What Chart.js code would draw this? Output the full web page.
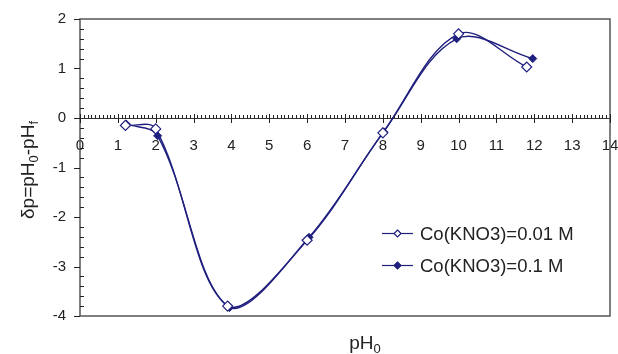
<!DOCTYPE html>
<html>
  <head>
    <meta charset="utf-8" />
    <title>δp vs pH0</title>
    <script src="https://cdn.jsdelivr.net/npm/chart.js"></script>
    <style>
      body {
        margin: 0;
        background: #fff;
      }
      .chart-box {
        width: 618px;
        height: 354px;
      }
    </style>
  </head>
  <body>
    <div class="chart-box"><canvas id="dpChart"></canvas></div>
    <script>
      // values
      const seriesNames = ["Co(KNO3)=0.01 M", "Co(KNO3)=0.1 M"];
      const ph001 = [1.2, 2.0, 3.9, 6.0, 8.0, 10.0, 11.8];
      const dp001 = [-0.15, -0.22, -3.8, -2.47, -0.3, 1.7, 1.03];
      const ph01 = [1.22, 2.05, 3.95, 6.05, 8.02, 9.95, 11.96];
      const dp01 = [-0.12, -0.36, -3.83, -2.41, -0.28, 1.6, 1.2];
      const xTicks = [0, 1, 2, 3, 4, 5, 6, 7, 8, 9, 10, 11, 12, 13, 14];
      const yTicks = [-4, -3, -2, -1, 0, 1, 2];

      const navy = "#1f1f7e";
      const axisGrey = "#555";
      const fontFam = "'Liberation Sans', Arial, sans-serif";

      const toPoints = (xs, ys) => xs.map((x, i) => ({ x: x, y: ys[i] }));

      // frame, tick marks, axis titles with subscripts and the legend
      const decorPlugin = {
        id: "decor",
        afterDraw: (chart) => {
          const ctx = chart.ctx;
          const a = chart.chartArea;
          const xs = chart.scales.x;
          const ys = chart.scales.y;
          const y0 = Math.round(ys.getPixelForValue(0));
          ctx.save();
          ctx.strokeStyle = axisGrey;
          ctx.lineWidth = 1.5;
          ctx.strokeRect(a.left, a.top, a.right - a.left, a.bottom - a.top);

          // tick marks as thin rectangles
          ctx.fillStyle = "#222";
          for (let i = 0; i <= 140; i++) {
            const px = Math.round(xs.getPixelForValue(i / 10));
            if (i % 10 === 0) {
              ctx.fillRect(px, y0 - 4, 1, 9);
            } else {
              ctx.fillRect(px, y0 - 3, 1, 3);
            }
          }
          const lx = Math.round(a.left);
          for (let i = -20; i <= 10; i++) {
            const py = Math.round(ys.getPixelForValue(i / 5));
            if (i % 5 === 0) {
              ctx.fillRect(lx - 6, py, 6, 1);
            } else {
              ctx.fillRect(lx, py, 4, 1);
            }
          }

          // axis titles
          ctx.fillStyle = "#222";
          ctx.textBaseline = "alphabetic";
          ctx.textAlign = "left";
          const big = "19px " + fontFam;
          const small = "13px " + fontFam;
          const drawParts = (parts, x, y) => {
            let cx = x;
            parts.forEach((p) => {
              ctx.font = p.sub ? small : big;
              ctx.fillText(p.t, cx, y + (p.sub ? 4 : 0));
              cx += ctx.measureText(p.t).width;
            });
          };
          const measure = (parts) =>
            parts.reduce((w, p) => {
              ctx.font = p.sub ? small : big;
              return w + ctx.measureText(p.t).width;
            }, 0);

          const xTitle = [{ t: "pH" }, { t: "0", sub: true }];
          drawParts(xTitle, 365 - measure(xTitle) / 2, 349);

          const yTitle = [
            { t: "δp=pH" },
            { t: "0", sub: true },
            { t: "-pH" },
            { t: "f", sub: true },
          ];
          ctx.translate(34, 170);
          ctx.rotate(-Math.PI / 2);
          drawParts(yTitle, -measure(yTitle) / 2, 0);
          ctx.setTransform(1, 0, 0, 1, 0, 0);

          // legend
          ctx.font = "18.5px " + fontFam;
          ctx.textBaseline = "middle";
          const rows = [233, 265];
          chart.data.datasets.forEach((ds, i) => {
            const ry = rows[i] + 0.5;
            ctx.strokeStyle = navy;
            ctx.lineWidth = 1.2;
            ctx.beginPath();
            ctx.moveTo(382, ry);
            ctx.lineTo(413, ry);
            ctx.stroke();
            ctx.beginPath();
            ctx.moveTo(397.5, ry - 3.5);
            ctx.lineTo(401, ry);
            ctx.lineTo(397.5, ry + 3.5);
            ctx.lineTo(394, ry);
            ctx.closePath();
            ctx.fillStyle = ds.pointBackgroundColor;
            ctx.fill();
            ctx.stroke();
            ctx.fillStyle = "#222";
            ctx.fillText(ds.label, 420, ry + 1);
          });
          ctx.restore();
        },
      };

      new Chart(document.getElementById("dpChart"), {
        type: "scatter",
        data: {
          datasets: [
            {
              label: seriesNames[0],
              data: toPoints(ph001, dp001),
              showLine: true,
              borderColor: navy,
              borderWidth: 1.4,
              tension: 0.35,
              pointStyle: "rectRot",
              pointRadius: 5,
              pointBorderWidth: 1.2,
              pointBackgroundColor: "#fff",
              pointBorderColor: navy,
            },
            {
              label: seriesNames[1],
              data: toPoints(ph01, dp01),
              showLine: true,
              borderColor: navy,
              borderWidth: 1.4,
              tension: 0.35,
              pointStyle: "rectRot",
              pointRadius: 4,
              pointBorderWidth: 1,
              pointBackgroundColor: navy,
              pointBorderColor: navy,
            },
          ],
        },
        options: {
          responsive: true,
          maintainAspectRatio: false,
          animation: false,
          layout: { padding: { left: 0, top: 19, right: 8, bottom: 38 } },
          plugins: {
            legend: { display: false },
            tooltip: { enabled: false },
          },
          scales: {
            x: {
              type: "linear",
              position: { y: 0 },
              min: 0,
              max: 14,
              afterBuildTicks: (s) => {
                s.ticks = xTicks.map((v) => ({ value: v }));
              },
              afterFit: (s) => {
                s.paddingLeft = 0;
                s.paddingRight = 0;
              },
              grid: { display: false, drawTicks: false },
              border: { color: "#333", width: 1 },
              ticks: {
                padding: 19,
                color: "#222",
                font: { family: fontFam, size: 15 },
                maxRotation: 0,
              },
            },
            y: {
              min: -4,
              max: 2,
              afterBuildTicks: (s) => {
                s.ticks = yTicks.map((v) => ({ value: v }));
              },
              afterFit: (s) => {
                s.width = 80;
                s.paddingTop = 0;
                s.paddingBottom = 0;
              },
              grid: { display: false, drawTicks: false },
              border: { display: false },
              ticks: {
                padding: 14,
                color: "#222",
                font: { family: fontFam, size: 15 },
              },
            },
          },
        },
        plugins: [decorPlugin],
      });
    </script>
  </body>
</html>
